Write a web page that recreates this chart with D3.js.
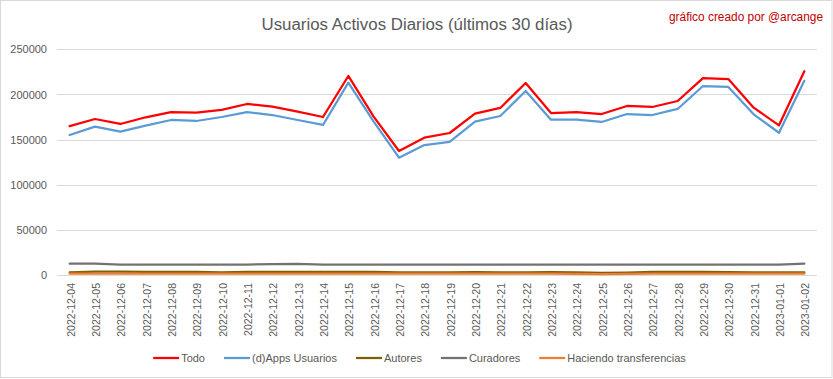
<!DOCTYPE html>
<html>
<head>
<meta charset="utf-8">
<script src="https://cdn.jsdelivr.net/npm/d3@7"></script>
<style>
  html, body { margin: 0; padding: 0; background: #fff; }
  svg { display: block; }
  text { font-family: "Liberation Sans", Arial, sans-serif; }
</style>
</head>
<body>
<svg id="chart" width="833" height="379"></svg>
<script>
const dates = ["2022-12-04","2022-12-05","2022-12-06","2022-12-07","2022-12-08","2022-12-09","2022-12-10","2022-12-11","2022-12-12","2022-12-13","2022-12-14","2022-12-15","2022-12-16","2022-12-17","2022-12-18","2022-12-19","2022-12-20","2022-12-21","2022-12-22","2022-12-23","2022-12-24","2022-12-25","2022-12-26","2022-12-27","2022-12-28","2022-12-29","2022-12-30","2022-12-31","2023-01-01","2023-01-02"];
const todo = [165000,172900,167400,174800,180600,179900,182900,189500,186500,181000,175100,220500,175500,137500,152200,157400,178800,185100,212700,179500,180600,178400,187300,186200,192800,218200,217100,185400,165900,225700];
const apps = [155200,164400,158900,165500,171800,170700,175100,180600,177300,171800,166300,213100,169900,130100,144100,147500,169900,176200,203900,172100,172100,169600,178400,177300,184000,209400,208300,178100,157700,215300];
const autores = [3200,4000,4000,3900,3900,3900,3200,3900,3900,3900,3900,3900,3800,3100,3100,3100,3600,3100,3100,3600,3300,2600,2900,3700,3800,3800,3600,3300,3300,3300];
const curadores = [12800,12800,11900,11900,11900,11900,11900,11900,12400,12700,11900,11900,11900,11900,11900,11900,11900,11900,11900,11900,11900,11900,11900,11900,11900,11900,11900,11900,11900,12900];
const transferencias = [1800,1900,1900,1900,1900,1800,1800,1900,1900,1900,1900,1800,1800,1800,1800,1800,1900,1900,1800,1900,1700,1200,1700,1900,1900,1900,1900,1800,1800,1800];
const yTicks = [0,50000,100000,150000,200000,250000];
const seriesNames = ["Todo","(d)Apps Usuarios","Autores","Curadores","Haciendo transferencias"];
const seriesValues = [todo, apps, autores, curadores, transferencias];
const seriesColors = ["#FF0000","#5B9BD5","#7F6000","#767171","#ED7D31"];
const titleText = "Usuarios Activos Diarios (últimos 30 días)";
const creditText = "gráfico creado por @arcange";

const svg = d3.select("#chart");
const W = 833, H = 379;
const textColor = "#595959";

svg.append("rect").attr("x",0.5).attr("y",0.5).attr("width",W-1.5).attr("height",H-2)
  .attr("fill","#fff").attr("stroke","#d9d9d9").attr("stroke-width",1);

const x = d3.scaleBand().domain(dates).range([57, 817]);
const y = d3.scaleLinear().domain([0, 250000]).range([275.3, 49.3]);
const cx = d => x(d) + x.bandwidth()/2;

// gridlines
const grid = svg.append("g");
grid.selectAll("line").data(yTicks).join("line")
  .attr("x1",57).attr("x2",817)
  .attr("y1",d=>Math.round(y(d))+0.5).attr("y2",d=>Math.round(y(d))+0.5)
  .attr("stroke","#d9d9d9").attr("stroke-width",1);

// y axis labels
const yAxis = d3.axisLeft(y).tickValues(yTicks).tickSize(0).tickPadding(0).tickFormat(d3.format("d"));
const ya = svg.append("g").attr("transform","translate(47,0)").call(yAxis);
ya.select(".domain").remove();
ya.selectAll("text").attr("fill",textColor).attr("font-size","11px")
  .attr("font-family",'"Liberation Sans", Arial, sans-serif');

// x axis labels
const xAxis = d3.axisBottom(x).tickSize(0).tickPadding(0);
const xa = svg.append("g").attr("transform","translate(0,275)").call(xAxis);
xa.select(".domain").remove();
xa.selectAll("text")
  .attr("fill",textColor).attr("font-size","10.5px")
  .attr("font-family",'"Liberation Sans", Arial, sans-serif')
  .attr("text-anchor","end")
  .attr("dy",null).attr("y",null)
  .attr("dominant-baseline","central")
  .attr("transform","translate(1,8) rotate(-90)");

// lines
const line = d3.line().x((d,i)=>cx(dates[i])).y(d=>y(d));
const lg = svg.append("g");
seriesValues.forEach((vals,k)=>{
  lg.append("path").datum(vals)
    .attr("d",line)
    .attr("fill","none")
    .attr("stroke",seriesColors[k])
    .attr("stroke-width",2.25)
    .attr("stroke-linejoin","round")
    .attr("stroke-linecap","round");
});

// title
svg.append("text").attr("x",417).attr("y",30).attr("text-anchor","middle")
  .attr("font-family",'"Open Sans", "Liberation Sans", sans-serif')
  .attr("font-size","16px").attr("fill",textColor)
  .attr("textLength",311).attr("lengthAdjust","spacingAndGlyphs")
  .text(titleText);

svg.append("text").attr("x",823).attr("y",21).attr("text-anchor","end")
  .attr("font-family",'"Open Sans", "Liberation Sans", sans-serif')
  .attr("font-size","12px").attr("fill","#C00000")
  .attr("textLength",154).attr("lengthAdjust","spacingAndGlyphs")
  .text(creditText);

// legend
const leg = svg.append("g");
const items = [];
seriesNames.forEach((n,k)=>{
  const g = leg.append("g");
  g.append("line").attr("x1",0).attr("x2",26).attr("y1",0).attr("y2",0)
    .attr("stroke",seriesColors[k]).attr("stroke-width",2.25);
  const t = g.append("text").attr("x",28).attr("y",0).attr("dominant-baseline","central")
    .attr("font-size","11px").attr("fill",textColor).text(n);
  items.push({g, w: 28 + t.node().getComputedTextLength()});
});
const gap = 19;
const total = d3.sum(items, d=>d.w) + gap*(items.length-1);
let lx = 419.5 - total/2;
items.forEach(it=>{
  it.g.attr("transform",`translate(${lx},358)`);
  lx += it.w + gap;
});
</script>
</body>
</html>
